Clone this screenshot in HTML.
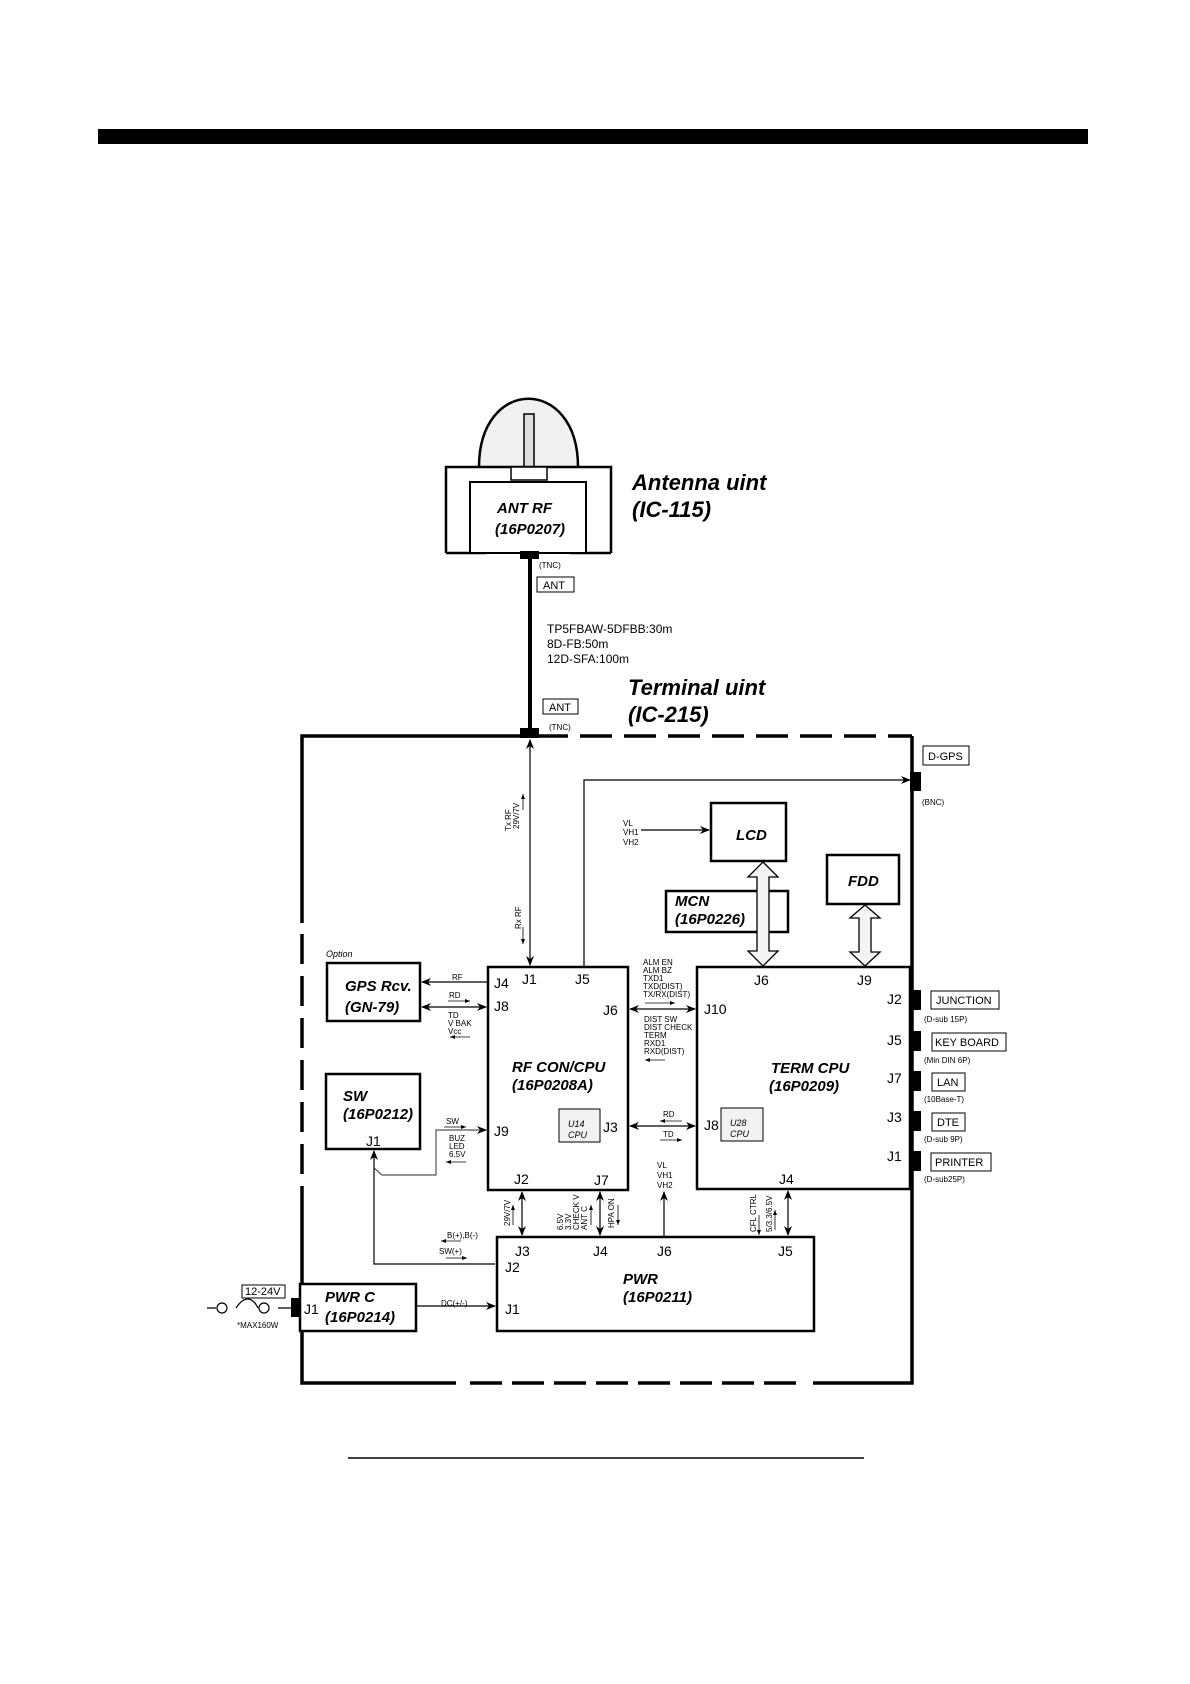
<!DOCTYPE html>
<html><head><meta charset="utf-8"><style>
html,body{margin:0;padding:0;background:#fff}
svg{display:block}
text{font-family:"Liberation Sans",sans-serif;fill:#000}
.bi{font-weight:bold;font-style:italic;font-size:15px}
.j{font-size:14px}
.s{font-size:8px}
.m{font-size:11px}
</style></head><body>
<svg width="1190" height="1684" viewBox="0 0 1190 1684" xmlns="http://www.w3.org/2000/svg">
<defs>
<marker id="a" markerWidth="10" markerHeight="8" refX="9" refY="4" orient="auto-start-reverse" markerUnits="userSpaceOnUse"><path d="M0,0 L10,4 L0,8 L3,4 z" fill="#000"/></marker>
<marker id="sa" markerWidth="5" markerHeight="4" refX="5" refY="2" orient="auto-start-reverse" markerUnits="userSpaceOnUse"><path d="M0,0 L5,2 L0,4 z" fill="#000"/></marker>
</defs>
<rect x="98" y="129" width="990" height="15" fill="#000"/>
<line x1="348" y1="1458" x2="864" y2="1458" stroke="#000" stroke-width="1.5"/>

<!-- Antenna -->
<path d="M479,467 C479,376 578,376 578,467" fill="#f0f0f0" stroke="#000" stroke-width="2.5"/>
<rect x="524" y="414" width="10" height="53" fill="#ddd" stroke="#000" stroke-width="1.5"/>
<path d="M446,553 V467 H611 V553" fill="#fff" stroke="#000" stroke-width="2.5"/>
<path d="M446,553 H486 M570,553 H611" stroke="#000" stroke-width="2.5"/>
<rect x="511" y="467" width="36" height="13" fill="#fff" stroke="#000" stroke-width="1.5"/>
<rect x="470" y="482" width="116" height="71" fill="#fff" stroke="#000" stroke-width="2"/>
<text class="bi" x="497" y="513">ANT RF</text>
<text class="bi" x="495" y="534">(16P0207)</text>
<text x="632" y="490" style="font-weight:bold;font-style:italic;font-size:22px">Antenna uint</text>
<text x="632" y="517" style="font-weight:bold;font-style:italic;font-size:22px">(IC-115)</text>
<rect x="520" y="551" width="19" height="8" fill="#000"/>
<line x1="530" y1="555" x2="530" y2="735" stroke="#000" stroke-width="4"/>
<text class="s" x="539" y="568">(TNC)</text>
<rect x="537" y="577" width="37" height="15" fill="#fff" stroke="#000"/>
<text class="m" x="543" y="589">ANT</text>
<text x="547" y="633" style="font-size:12px">TP5FBAW-5DFBB:30m</text>
<text x="547" y="648" style="font-size:12px">8D-FB:50m</text>
<text x="547" y="663" style="font-size:12px">12D-SFA:100m</text>
<text x="628" y="695" style="font-weight:bold;font-style:italic;font-size:22px">Terminal uint</text>
<text x="628" y="722" style="font-weight:bold;font-style:italic;font-size:22px">(IC-215)</text>
<rect x="543" y="699" width="35" height="15" fill="#fff" stroke="#000"/>
<text class="m" x="549" y="711">ANT</text>
<text class="s" x="549" y="730">(TNC)</text>

<!-- outer terminal box -->
<g stroke="#000" stroke-width="3.5" fill="none">
<path d="M568,736 H302 V923"/>
<path d="M580,736 H912" stroke-dasharray="32,12"/>
<path d="M912,736 V1383 H813"/>
<path d="M302,934 V1193" stroke-dasharray="30,12"/>
<path d="M302,1193 V1383 H456"/>
<path d="M470,1383 H800" stroke-dasharray="32,10"/>
</g>
<rect x="520" y="728" width="19" height="10" fill="#000"/>

<!-- D-GPS -->
<rect x="910" y="772" width="11" height="19" fill="#000"/>
<rect x="923" y="746" width="46" height="19" fill="#fff" stroke="#000"/>
<text class="m" x="928" y="760">D-GPS</text>
<text class="s" x="922" y="805">(BNC)</text>

<!-- Lines -->
<g stroke="#000" stroke-width="1.2" fill="none">
<line x1="530" y1="740" x2="530" y2="965" marker-start="url(#a)" marker-end="url(#a)"/>
<path d="M584,967 V780 H910" marker-end="url(#a)"/>
<line x1="641" y1="830" x2="709" y2="830" marker-end="url(#a)"/>
<line x1="488" y1="982" x2="422" y2="982" marker-end="url(#a)"/>
<line x1="422" y1="1007" x2="486" y2="1007" marker-start="url(#a)" marker-end="url(#a)"/>
<line x1="630" y1="1009" x2="695" y2="1009" marker-start="url(#a)" marker-end="url(#a)"/>
<line x1="630" y1="1126" x2="695" y2="1126" marker-start="url(#a)" marker-end="url(#a)"/>
<path d="M382,1175 H436 V1130 H486" marker-end="url(#a)" stroke="#555"/>
<path d="M382,1175 L374,1168" stroke="#555"/>
<path d="M495,1264 H374 V1151" marker-end="url(#a)"/>
<line x1="416" y1="1306" x2="495" y2="1306" marker-end="url(#a)"/>
<line x1="522" y1="1192" x2="522" y2="1235" marker-start="url(#a)" marker-end="url(#a)"/>
<line x1="600" y1="1192" x2="600" y2="1235" marker-start="url(#a)" marker-end="url(#a)"/>
<line x1="664" y1="1237" x2="664" y2="1192" marker-end="url(#a)"/>
<line x1="788" y1="1191" x2="788" y2="1235" marker-start="url(#a)" marker-end="url(#a)"/>
<path d="M207,1308 H216 M236,1308 C244,1296 252,1296 258,1308 M278,1308 H291"/>
<circle cx="222" cy="1308" r="5"/><circle cx="264" cy="1308" r="5"/>
</g>
<!-- small arrows -->
<g stroke="#000" stroke-width="0.8" fill="none">
<line x1="448" y1="1001" x2="470" y2="1001" marker-end="url(#sa)"/>
<line x1="470" y1="1037" x2="450" y2="1037" marker-end="url(#sa)"/>
<line x1="645" y1="1003" x2="675" y2="1003" marker-end="url(#sa)"/>
<line x1="665" y1="1060" x2="645" y2="1060" marker-end="url(#sa)"/>
<line x1="444" y1="1127" x2="466" y2="1127" marker-end="url(#sa)"/>
<line x1="466" y1="1162" x2="446" y2="1162" marker-end="url(#sa)"/>
<line x1="682" y1="1121" x2="660" y2="1121" marker-end="url(#sa)"/>
<line x1="660" y1="1140" x2="682" y2="1140" marker-end="url(#sa)"/>
<line x1="461" y1="1241" x2="441" y2="1241" marker-end="url(#sa)"/>
<line x1="446" y1="1258" x2="467" y2="1258" marker-end="url(#sa)"/>
<line x1="523" y1="810" x2="523" y2="794" marker-end="url(#sa)"/>
<line x1="523" y1="927" x2="523" y2="944" marker-end="url(#sa)"/>
<line x1="513" y1="1225" x2="513" y2="1205" marker-end="url(#sa)"/>
<line x1="591" y1="1225" x2="591" y2="1205" marker-end="url(#sa)"/>
<line x1="618" y1="1205" x2="618" y2="1225" marker-end="url(#sa)"/>
<line x1="759" y1="1215" x2="759" y2="1235" marker-end="url(#sa)"/>
<line x1="775" y1="1230" x2="775" y2="1210" marker-end="url(#sa)"/>
</g>

<!-- Boxes -->
<g fill="#fff" stroke="#000" stroke-width="2.5">
<rect x="327" y="963" width="93" height="58"/>
<rect x="488" y="967" width="140" height="223"/>
<rect x="326" y="1074" width="94" height="75"/>
<rect x="697" y="967" width="213" height="222"/>
<rect x="711" y="803" width="75" height="58"/>
<rect x="827" y="855" width="72" height="49"/>
<rect x="666" y="891" width="122" height="41"/>
<rect x="497" y="1237" width="317" height="94"/>
<rect x="300" y="1284" width="116" height="47"/>
</g>
<rect x="559" y="1109" width="41" height="33" fill="#f2f2f2" stroke="#000"/>
<rect x="721" y="1108" width="42" height="33" fill="#f2f2f2" stroke="#000"/>
<!-- block arrows -->
<path d="M763,862 L778,877 L769,877 L769,951 L778,951 L763,966 L748,951 L757,951 L757,877 L748,877 Z" fill="#f4f4f4" stroke="#000" stroke-width="1.3"/>
<path d="M865,905 L880,918 L871,918 L871,952 L880,952 L865,966 L850,952 L859,952 L859,918 L850,918 Z" fill="#f4f4f4" stroke="#000" stroke-width="1.3"/>
<rect x="291" y="1298" width="10" height="19" fill="#000"/>

<!-- Right connectors -->
<g fill="#000">
<rect x="912" y="990" width="9" height="20"/><rect x="912" y="1031" width="9" height="20"/>
<rect x="912" y="1071" width="9" height="20"/><rect x="912" y="1111" width="9" height="20"/>
<rect x="912" y="1151" width="9" height="20"/>
</g>
<g fill="#fff" stroke="#000">
<rect x="931" y="991" width="68" height="18"/><rect x="932" y="1033" width="74" height="18"/>
<rect x="932" y="1073" width="33" height="18"/><rect x="932" y="1113" width="33" height="18"/>
<rect x="931" y="1153" width="60" height="18"/>
</g>
<text class="m" x="936" y="1004">JUNCTION</text>
<text class="m" x="935" y="1046">KEY BOARD</text>
<text class="m" x="937" y="1086">LAN</text>
<text class="m" x="937" y="1126">DTE</text>
<text class="m" x="935" y="1166">PRINTER</text>
<text class="s" x="924" y="1022">(D-sub 15P)</text>
<text class="s" x="924" y="1063">(Min DIN 6P)</text>
<text class="s" x="924" y="1102">(10Base-T)</text>
<text class="s" x="924" y="1142">(D-sub 9P)</text>
<text class="s" x="924" y="1182">(D-sub25P)</text>

<!-- Box labels -->
<text class="bi" x="345" y="991">GPS Rcv.</text>
<text class="bi" x="345" y="1012">(GN-79)</text>
<text x="326" y="957" style="font-size:9px;font-style:italic">Option</text>
<text class="bi" x="343" y="1101">SW</text>
<text class="bi" x="343" y="1119">(16P0212)</text>
<text class="j" x="366" y="1146">J1</text>
<text class="bi" x="512" y="1072">RF CON/CPU</text>
<text class="bi" x="512" y="1090">(16P0208A)</text>
<text class="j" x="494" y="988">J4</text><text class="j" x="522" y="984">J1</text><text class="j" x="575" y="984">J5</text>
<text class="j" x="494" y="1011">J8</text><text class="j" x="603" y="1015">J6</text>
<text class="j" x="494" y="1136">J9</text><text class="j" x="603" y="1132">J3</text>
<text class="j" x="514" y="1184">J2</text><text class="j" x="594" y="1185">J7</text>
<text x="568" y="1127" style="font-size:9px;font-style:italic">U14</text>
<text x="568" y="1138" style="font-size:9px;font-style:italic">CPU</text>
<text x="730" y="1126" style="font-size:9px;font-style:italic">U28</text>
<text x="730" y="1137" style="font-size:9px;font-style:italic">CPU</text>
<text class="bi" x="771" y="1073">TERM CPU</text>
<text class="bi" x="769" y="1091">(16P0209)</text>
<text class="j" x="754" y="985">J6</text><text class="j" x="857" y="985">J9</text>
<text class="j" x="704" y="1014">J10</text><text class="j" x="704" y="1130">J8</text>
<text class="j" x="887" y="1004">J2</text><text class="j" x="887" y="1045">J5</text>
<text class="j" x="887" y="1083">J7</text><text class="j" x="887" y="1122">J3</text>
<text class="j" x="887" y="1161">J1</text><text class="j" x="779" y="1184">J4</text>
<text class="bi" x="736" y="840">LCD</text>
<text class="bi" x="848" y="886">FDD</text>
<text class="bi" x="675" y="906">MCN</text>
<text class="bi" x="675" y="924">(16P0226)</text>
<text class="bi" x="623" y="1284">PWR</text>
<text class="bi" x="623" y="1302">(16P0211)</text>
<text class="j" x="515" y="1256">J3</text><text class="j" x="593" y="1256">J4</text>
<text class="j" x="657" y="1256">J6</text><text class="j" x="778" y="1256">J5</text>
<text class="j" x="505" y="1272">J2</text><text class="j" x="505" y="1314">J1</text>
<text class="bi" x="325" y="1302">PWR C</text>
<text class="bi" x="325" y="1322">(16P0214)</text>
<text class="j" x="304" y="1314">J1</text>
<rect x="242" y="1285" width="43" height="13" fill="#fff" stroke="#000"/>
<text class="m" x="245" y="1295">12-24V</text>
<text class="s" x="237" y="1328">*MAX160W</text>

<!-- small labels -->
<g class="s">
<text class="s" x="452" y="980">RF</text>
<text class="s" x="449" y="998">RD</text>
<text class="s" x="448" y="1018">TD</text><text class="s" x="448" y="1026">V BAK</text><text class="s" x="448" y="1034">Vcc</text>
<text class="s" x="643" y="965">ALM EN</text><text class="s" x="643" y="973">ALM BZ</text>
<text class="s" x="643" y="981">TXD1</text><text class="s" x="643" y="989">TXD(DIST)</text><text class="s" x="643" y="997">TX/RX(DIST)</text>
<text class="s" x="644" y="1022">DIST SW</text><text class="s" x="644" y="1030">DIST CHECK</text>
<text class="s" x="644" y="1038">TERM</text><text class="s" x="644" y="1046">RXD1</text><text class="s" x="644" y="1054">RXD(DIST)</text>
<text class="s" x="446" y="1124">SW</text>
<text class="s" x="449" y="1141">BUZ</text><text class="s" x="449" y="1149">LED</text><text class="s" x="449" y="1157">6.5V</text>
<text class="s" x="663" y="1117">RD</text><text class="s" x="663" y="1137">TD</text>
<text class="s" x="657" y="1168">VL</text><text class="s" x="657" y="1178">VH1</text><text class="s" x="657" y="1188">VH2</text>
<text class="s" x="623" y="826">VL</text><text class="s" x="623" y="835">VH1</text><text class="s" x="623" y="845">VH2</text>
<text class="s" x="447" y="1238">B(+),B(-)</text>
<text class="s" x="439" y="1254">SW(+)</text>
<text class="s" x="441" y="1306">DC(+/-)</text>
</g>
<g font-size="8">
<text class="s" transform="translate(511,831) rotate(-90)">Tx RF</text>
<text class="s" transform="translate(519,829) rotate(-90)">29V/7V</text>
<text class="s" transform="translate(521,929) rotate(-90)">Rx RF</text>
<text class="s" transform="translate(510,1226) rotate(-90)">29V/7V</text>
<text class="s" transform="translate(563,1230) rotate(-90)">6.5V</text>
<text class="s" transform="translate(571,1230) rotate(-90)">3.3V</text>
<text class="s" transform="translate(579,1230) rotate(-90)">CHECK V</text>
<text class="s" transform="translate(587,1230) rotate(-90)">ANT C</text>
<text class="s" transform="translate(614,1228) rotate(-90)">HPA ON</text>
<text class="s" transform="translate(756,1232) rotate(-90)">CFL CTRL</text>
<text class="s" transform="translate(772,1232) rotate(-90)">5/3.3/6.5V</text>
</g>
</svg>
</body></html>
